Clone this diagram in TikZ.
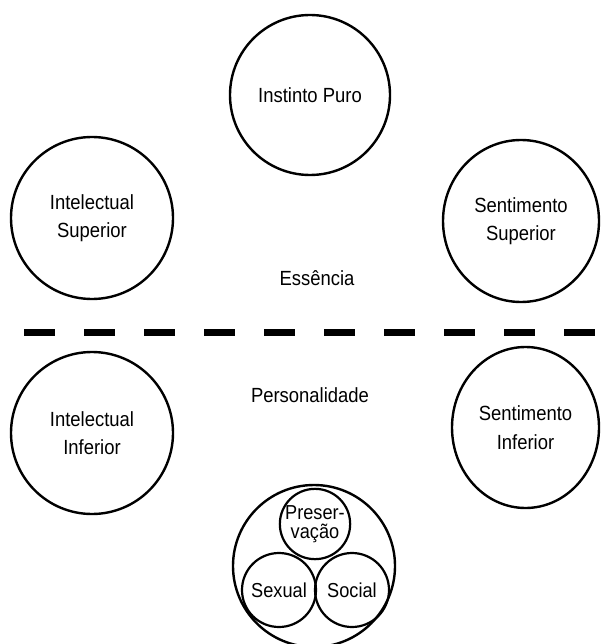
\documentclass[tikz,border=0pt]{standalone}
\usepackage{fontspec}
\setmainfont{Liberation Sans}[FakeStretch=0.9]
\usetikzlibrary{shapes.geometric}
\begin{document}
\begin{tikzpicture}[x=1pt,y=-1pt,
  big/.style={circle,draw,line width=2.4pt,inner sep=0pt,align=center,
    font=\fontsize{20.5}{28.5}\selectfont},
  oval/.style={ellipse,draw,line width=2.4pt,inner sep=0pt,align=center,
    font=\fontsize{20.5}{28.5}\selectfont},
  small/.style={circle,draw,line width=2.2pt,inner sep=0pt,align=center,
    font=\fontsize{20.2}{19.5}\selectfont},
  lbl/.style={inner sep=0pt,font=\fontsize{20.5}{22}\selectfont},
  divider/.style={line width=7pt,dash pattern=on 31pt off 29pt}]
\useasboundingbox (0,0) rectangle (601,644);
\begin{scope}
\clip (0,0) rectangle (601,644);
\node[big,minimum size=160pt] (ip) at (310,95) {Instinto Puro};
\node[big,minimum size=162pt] (is) at (92,218) {Intelectual\\Superior};
\node[oval,minimum width=156pt,minimum height=162pt] (ss) at (521,221) {Sentimento\\Superior};
\node[big,minimum size=162pt] (ii) at (92,433) {Intelectual\\Inferior};
\node[oval,minimum width=147pt,minimum height=161pt] (si) at (525.5,427.5) {Sentimento\\Inferior};
\node[lbl] (ess) at (317,278) {Essência};
\node[lbl] (pers) at (310,395) {Personalidade};
\coordinate (dl) at (24,332);
\coordinate (dr) at (601,332);
\draw[divider] (dl) -- (dr);
\node[big,minimum size=162pt] (outer) at (314,566) {};
\node[small,minimum size=70pt] (pres) at (315,524) {Preser-\\vação};
\node[small,minimum size=74pt] (sex) at (279,590) {Sexual};
\node[small,minimum size=74pt] (soc) at (352,590) {Social};
\end{scope}
\end{tikzpicture}
\end{document}
